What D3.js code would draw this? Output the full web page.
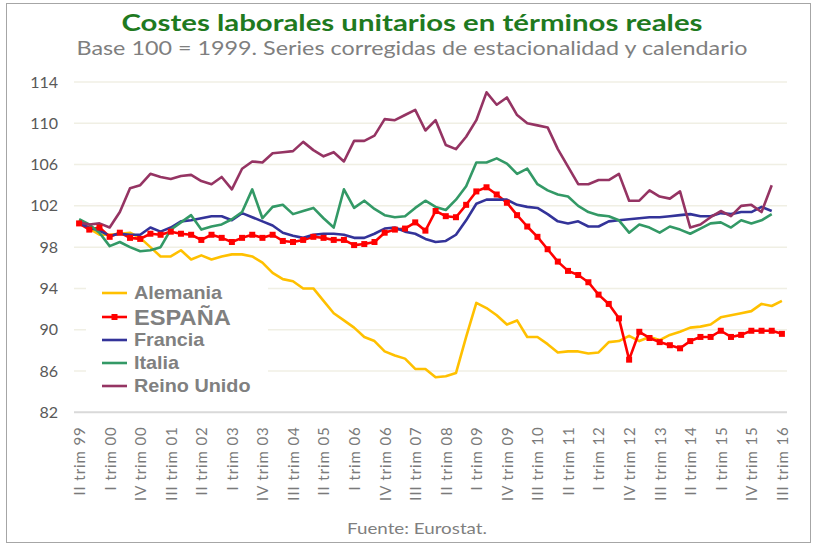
<!DOCTYPE html>
<html>
  <head>
    <title>Costes laborales unitarios</title>
    <style>
      body { margin: 0; background: #fff; }
      text { font-family: Lato, "Open Sans", sans-serif; }
    </style>
  </head>
  <body>
    <div id="chart"></div>
  </body>
  <script src="https://d3js.org/d3.v7.min.js"></script>
  <script>

    // quarters II trim 99 .. III trim 16
    let romans = ["I", "II", "III", "IV"];
    let quarters = [];
    for (let y = 1999; y <= 2016; y++) {
      for (let q = 0; q < 4; q++) {
        if (y === 1999 && q < 1) continue;
        if (y === 2016 && q > 2) continue;
        quarters.push(romans[q] + " trim " + String(y).slice(2));
      }
    }

    let yTicks = [82, 86, 90, 94, 98, 102, 106, 110, 114];

    let alemania = [100.6, 99.8, 99.2, 99.2, 99.3, 99.4, 98.9, 98.0, 97.1, 97.1,
      97.7, 96.8, 97.2, 96.8, 97.1, 97.3, 97.3, 97.1, 96.5, 95.5,
      94.9, 94.7, 94.0, 94.0, 92.8, 91.6, 90.9, 90.2, 89.3, 88.9,
      87.9, 87.5, 87.2, 86.2, 86.2, 85.4, 85.5, 85.8, 89.3, 92.6,
      92.1, 91.4, 90.5, 90.9, 89.3, 89.3, 88.6, 87.8, 87.9, 87.9,
      87.7, 87.8, 88.8, 88.9, 89.4, 88.9, 89.3, 89.0, 89.5, 89.8,
      90.2, 90.3, 90.5, 91.2, 91.4, 91.6, 91.8, 92.5, 92.3, 92.8];

    let espana = [100.3, 99.7, 99.9, 99.0, 99.4, 98.9, 98.8, 99.3, 99.2, 99.5,
      99.3, 99.2, 98.7, 99.2, 98.9, 98.5, 98.9, 99.2, 98.9, 99.2,
      98.6, 98.5, 98.7, 99.0, 98.9, 98.7, 98.7, 98.2, 98.3, 98.5,
      99.4, 99.7, 99.8, 100.4, 99.6, 101.5, 101.0, 100.9, 102.1, 103.4,
      103.8, 103.1, 102.3, 101.1, 100.0, 99.0, 97.8, 96.6, 95.7, 95.3,
      94.6, 93.4, 92.5, 91.1, 87.1, 89.8, 89.2, 88.8, 88.5, 88.2,
      88.9, 89.3, 89.3, 89.9, 89.3, 89.5, 89.9, 89.9, 89.9, 89.6];

    let francia = [100.3, 99.9, 99.6, 99.1, 99.3, 99.2, 99.2, 99.9, 99.5, 99.9,
      100.5, 100.6, 100.8, 101.0, 101.0, 100.6, 101.3, 100.9, 100.5, 100.1,
      99.4, 99.1, 98.9, 99.2, 99.3, 99.3, 99.2, 98.9, 98.9, 99.3,
      99.8, 99.9, 99.5, 99.3, 98.8, 98.5, 98.6, 99.2, 100.6, 102.2,
      102.6, 102.6, 102.6, 102.1, 101.9, 101.8, 101.2, 100.5, 100.3, 100.5,
      100.0, 100.0, 100.5, 100.6, 100.7, 100.8, 100.9, 100.9, 101.0, 101.1,
      101.2, 101.0, 101.0, 101.3, 101.2, 101.4, 101.4, 101.9, 101.5];

    let italia = [100.7, 100.2, 99.4, 98.1, 98.5, 98.0, 97.6, 97.7, 98.0, 99.7,
      100.4, 101.1, 99.7, 100.0, 100.2, 100.7, 101.4, 103.6, 100.8, 101.9,
      102.1, 101.2, 101.5, 101.8, 100.8, 99.9, 103.6, 101.8, 102.5, 101.7,
      101.1, 100.9, 101.0, 101.8, 102.5, 101.9, 101.6, 102.6, 103.9, 106.2,
      106.2, 106.6, 106.1, 105.1, 105.6, 104.1, 103.5, 103.1, 102.9, 102.0,
      101.4, 101.1, 101.0, 100.6, 99.4, 100.2, 99.9, 99.4, 100.0, 99.7,
      99.3, 99.8, 100.3, 100.4, 99.9, 100.6, 100.3, 100.6, 101.2];

    let reinoUnido = [100.4, 100.2, 100.3, 99.9, 101.4, 103.7, 104.0, 105.1, 104.8, 104.6,
      104.9, 105.0, 104.4, 104.1, 104.8, 103.6, 105.6, 106.3, 106.2, 107.1,
      107.2, 107.3, 108.2, 107.4, 106.8, 107.2, 106.3, 108.3, 108.3, 108.8,
      110.4, 110.3, 110.8, 111.3, 109.3, 110.3, 107.9, 107.5, 108.7, 110.3,
      113.0, 111.8, 112.5, 110.8, 110.0, 109.8, 109.6, 107.5, 105.8, 104.1,
      104.1, 104.5, 104.5, 105.1, 102.5, 102.5, 103.5, 102.9, 102.7, 103.4,
      99.9, 100.2, 100.9, 101.5, 101.0, 102.0, 102.1, 101.4, 104.0];

    let series = [
      {name: "Alemania", values: alemania, color: "#FFC000"},
      {name: "ESPAÑA", values: espana, color: "#FF0000", marker: true},
      {name: "Francia", values: francia, color: "#333399"},
      {name: "Italia", values: italia, color: "#339966"},
      {name: "Reino Unido", values: reinoUnido, color: "#953463"}
    ];

    let width = 814, height = 545;
    let plot = {left: 74, right: 787, top: 82, bottom: 412.3};

    let svg = d3.select("#chart").append("svg")
      .attr("width", width)
      .attr("height", height);

    // outer frame
    svg.append("rect")
      .attr("x", 6.5).attr("y", 3.5)
      .attr("width", 804).attr("height", 539)
      .attr("fill", "none")
      .attr("stroke", "#a6a6a6");

    let xScale = d3.scalePoint()
      .domain(quarters)
      .range([plot.left, plot.right])
      .padding(0.5);

    let yScale = d3.scaleLinear()
      .domain([82, 114])
      .range([plot.bottom, plot.top]);

    // gridlines
    svg.append("g")
      .selectAll("line")
      .data(yTicks.slice(1))
      .enter().append("line")
      .attr("x1", plot.left).attr("x2", plot.right)
      .attr("y1", d => yScale(d)).attr("y2", d => yScale(d))
      .attr("stroke", "#f0efe4")
      .attr("stroke-width", 1.5);

    // y axis labels
    let yAxis = svg.append("g")
      .attr("transform", "translate(" + plot.left + ",0)")
      .call(d3.axisLeft(yScale).tickValues(yTicks).tickSize(0).tickPadding(16));
    yAxis.select(".domain").remove();
    yAxis.selectAll("text")
      .style("font-family", "Lato, sans-serif")
      .style("font-size", "16px")
      .attr("fill", "#595959");

    // x axis
    let labelled = quarters.filter((d, i) => i % 3 === 0);
    let xAxis = svg.append("g")
      .attr("transform", "translate(0," + plot.bottom + ")")
      .call(d3.axisBottom(xScale).tickValues(labelled).tickSize(0));
    xAxis.select(".domain")
      .attr("d", "M" + plot.left + ",0H" + plot.right)
      .attr("stroke", "#d9d9d9")
      .attr("stroke-width", 2);
    xAxis.selectAll("text")
      .attr("transform", "rotate(-90)")
      .attr("text-anchor", "end")
      .attr("x", -14)
      .attr("y", 0)
      .attr("dy", "0.36em")
      .style("font-family", "Lato, sans-serif")
      .style("font-size", "15px")
      .style("letter-spacing", "0.9px")
      .attr("fill", "#7a7a7a");

    // legend background
    svg.append("rect")
      .attr("x", 86).attr("y", 280)
      .attr("width", 182).attr("height", 118)
      .attr("fill", "#fff");

    let line = d3.line()
      .x((d, i) => xScale(quarters[i]))
      .y(d => yScale(d));

    series.forEach(function(s) {
      svg.append("path")
        .datum(s.values)
        .attr("fill", "none")
        .attr("stroke", s.color)
        .attr("stroke-width", 2.6)
        .attr("stroke-linejoin", "round")
        .attr("d", line);
    });

    // markers for ESPAÑA
    svg.append("g")
      .selectAll("rect")
      .data(espana)
      .enter().append("rect")
      .attr("x", (d, i) => xScale(quarters[i]) - 3)
      .attr("y", d => yScale(d) - 3)
      .attr("width", 6).attr("height", 6)
      .attr("fill", "#FF0000");

    // legend
    let rows = [293, 317, 340, 363, 386];
    let legend = svg.append("g");
    series.forEach(function(s, i) {
      legend.append("line")
        .attr("x1", 102).attr("x2", 127)
        .attr("y1", rows[i]).attr("y2", rows[i])
        .attr("stroke", s.color)
        .attr("stroke-width", 2.6);
      if (s.marker) {
        legend.append("rect")
          .attr("x", 111.5).attr("y", rows[i] - 3)
          .attr("width", 6).attr("height", 6)
          .attr("fill", s.color);
      }
      legend.append("text")
        .attr("x", 134)
        .attr("y", rows[i])
        .attr("dy", "0.36em")
        .style("font-family", "'Liberation Sans', Arial, sans-serif")
        .style("font-weight", "bold")
        .style("font-size", s.marker ? "21.5px" : "18px")
        .attr("fill", "#808080")
        .attr("transform", "translate(134," + rows[i] + ") scale(1.1,1) translate(-134," + -rows[i] + ")")
        .text(s.name);
    });

    // titles
    svg.append("text")
      .attr("x", 412).attr("y", 31)
      .attr("text-anchor", "middle")
      .attr("textLength", 581)
      .attr("lengthAdjust", "spacingAndGlyphs")
      .style("font-size", "23px")
      .style("font-weight", "bold")
      .attr("fill", "#1f7a1f")
      .text("Costes laborales unitarios en términos reales");

    svg.append("text")
      .attr("x", 412).attr("y", 55)
      .attr("text-anchor", "middle")
      .attr("textLength", 671)
      .attr("lengthAdjust", "spacingAndGlyphs")
      .style("font-size", "19px")
      .attr("fill", "#7f7f7f")
      .text("Base 100 = 1999. Series corregidas de estacionalidad y calendario");

    svg.append("text")
      .attr("x", 417).attr("y", 534)
      .attr("text-anchor", "middle")
      .attr("textLength", 140)
      .attr("lengthAdjust", "spacingAndGlyphs")
      .style("font-size", "16px")
      .attr("fill", "#7f7f7f")
      .text("Fuente: Eurostat.");

  </script>
</html>
